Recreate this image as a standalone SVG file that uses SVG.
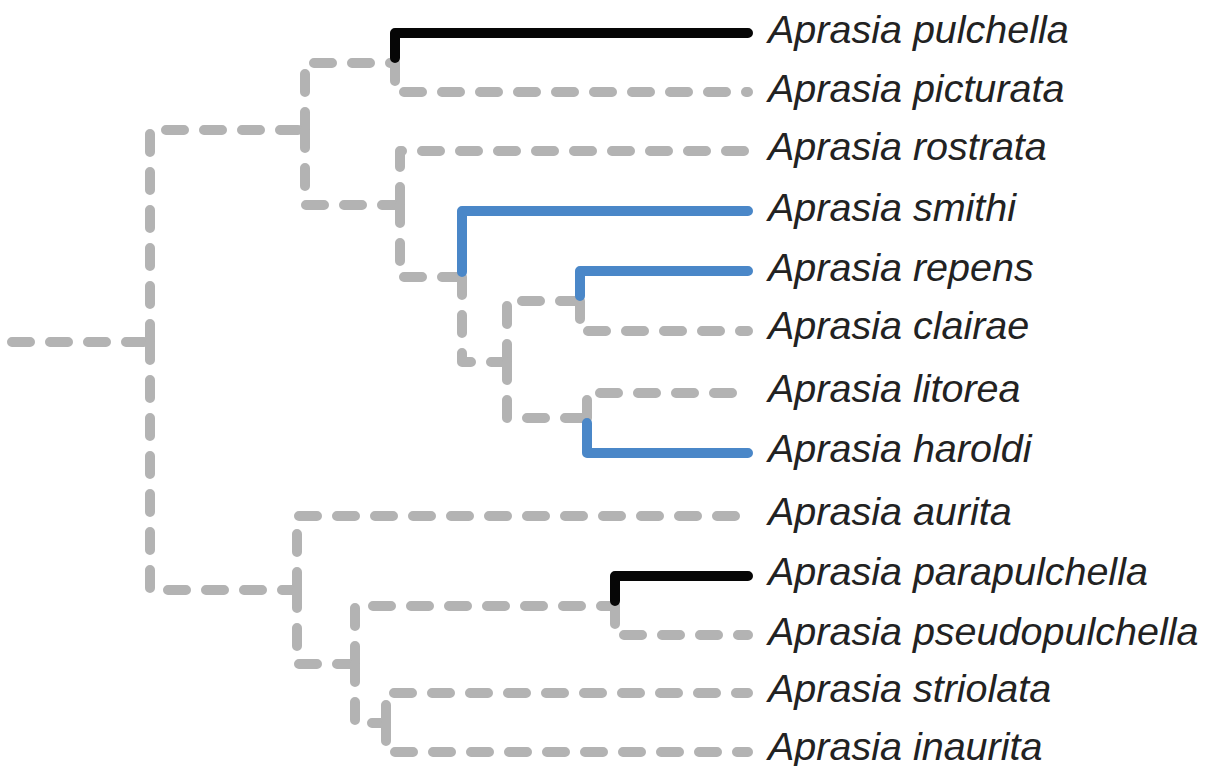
<svg xmlns="http://www.w3.org/2000/svg" width="1207" height="766" viewBox="0 0 1207 766">
<style>
.e{fill:none;stroke-width:10;stroke-linecap:round;stroke-linejoin:round}
.g{stroke:#b3b3b3;stroke-dasharray:18 20}
.k{stroke:#060606}
.b{stroke:#4a87c8}
.t{font-family:"Liberation Sans",Arial,sans-serif;font-style:italic;font-size:39.5px;fill:#222}
</style>
<rect width="1207" height="766" fill="#fff"/>
<g id="connectors">
<path class="e g" d="M12,342H150"/>
<path class="e g" d="M150,342V130H305"/>
<path class="e g" d="M150,342V590H297"/>
<path class="e g" d="M305,130V63H395"/>
<path class="e g" d="M305,130V205H400"/>
<path class="e g" d="M395,63V92H748"/>
<path class="e g" d="M400,205V151H748"/>
<path class="e g" d="M400,205V277H462"/>
<path class="e g" d="M462,277V362H507"/>
<path class="e g" d="M507,362V301H580"/>
<path class="e g" d="M507,362V418H587"/>
<path class="e g" d="M580,301V331H748"/>
<path class="e g" d="M587,418V393H748"/>
<path class="e g" d="M297,590V516H748"/>
<path class="e g" d="M297,590V664H355"/>
<path class="e g" d="M355,664V606H615"/>
<path class="e g" d="M355,664V723H386"/>
<path class="e g" d="M615,606V635H748"/>
<path class="e g" d="M386,723V693H748"/>
<path class="e g" d="M386,723V752H748"/>
<path class="e k" d="M395,58V33H748"/>
<path class="e b" d="M462,272V211H748"/>
<path class="e b" d="M580,296V271H748"/>
<path class="e b" d="M587,423V453H748"/>
<path class="e k" d="M615,601V576H748"/>
</g>
<g id="tip-pulchella"><text class="t" x="768" y="43">Aprasia pulchella</text></g>
<g id="tip-picturata"><text class="t" x="768" y="102">Aprasia picturata</text></g>
<g id="tip-rostrata"><text class="t" x="768" y="160">Aprasia rostrata</text></g>
<g id="tip-smithi"><text class="t" x="768" y="221">Aprasia smithi</text></g>
<g id="tip-repens"><text class="t" x="768" y="281">Aprasia repens</text></g>
<g id="tip-clairae"><text class="t" x="768" y="339">Aprasia clairae</text></g>
<g id="tip-litorea"><text class="t" x="768" y="402">Aprasia litorea</text></g>
<g id="tip-haroldi"><text class="t" x="768" y="462">Aprasia haroldi</text></g>
<g id="tip-aurita"><text class="t" x="768" y="525">Aprasia aurita</text></g>
<g id="tip-parapulchella"><text class="t" x="768" y="585">Aprasia parapulchella</text></g>
<g id="tip-pseudopulchella"><text class="t" x="768" y="645">Aprasia pseudopulchella</text></g>
<g id="tip-striolata"><text class="t" x="768" y="702">Aprasia striolata</text></g>
<g id="tip-inaurita"><text class="t" x="768" y="760">Aprasia inaurita</text></g>
</svg>
